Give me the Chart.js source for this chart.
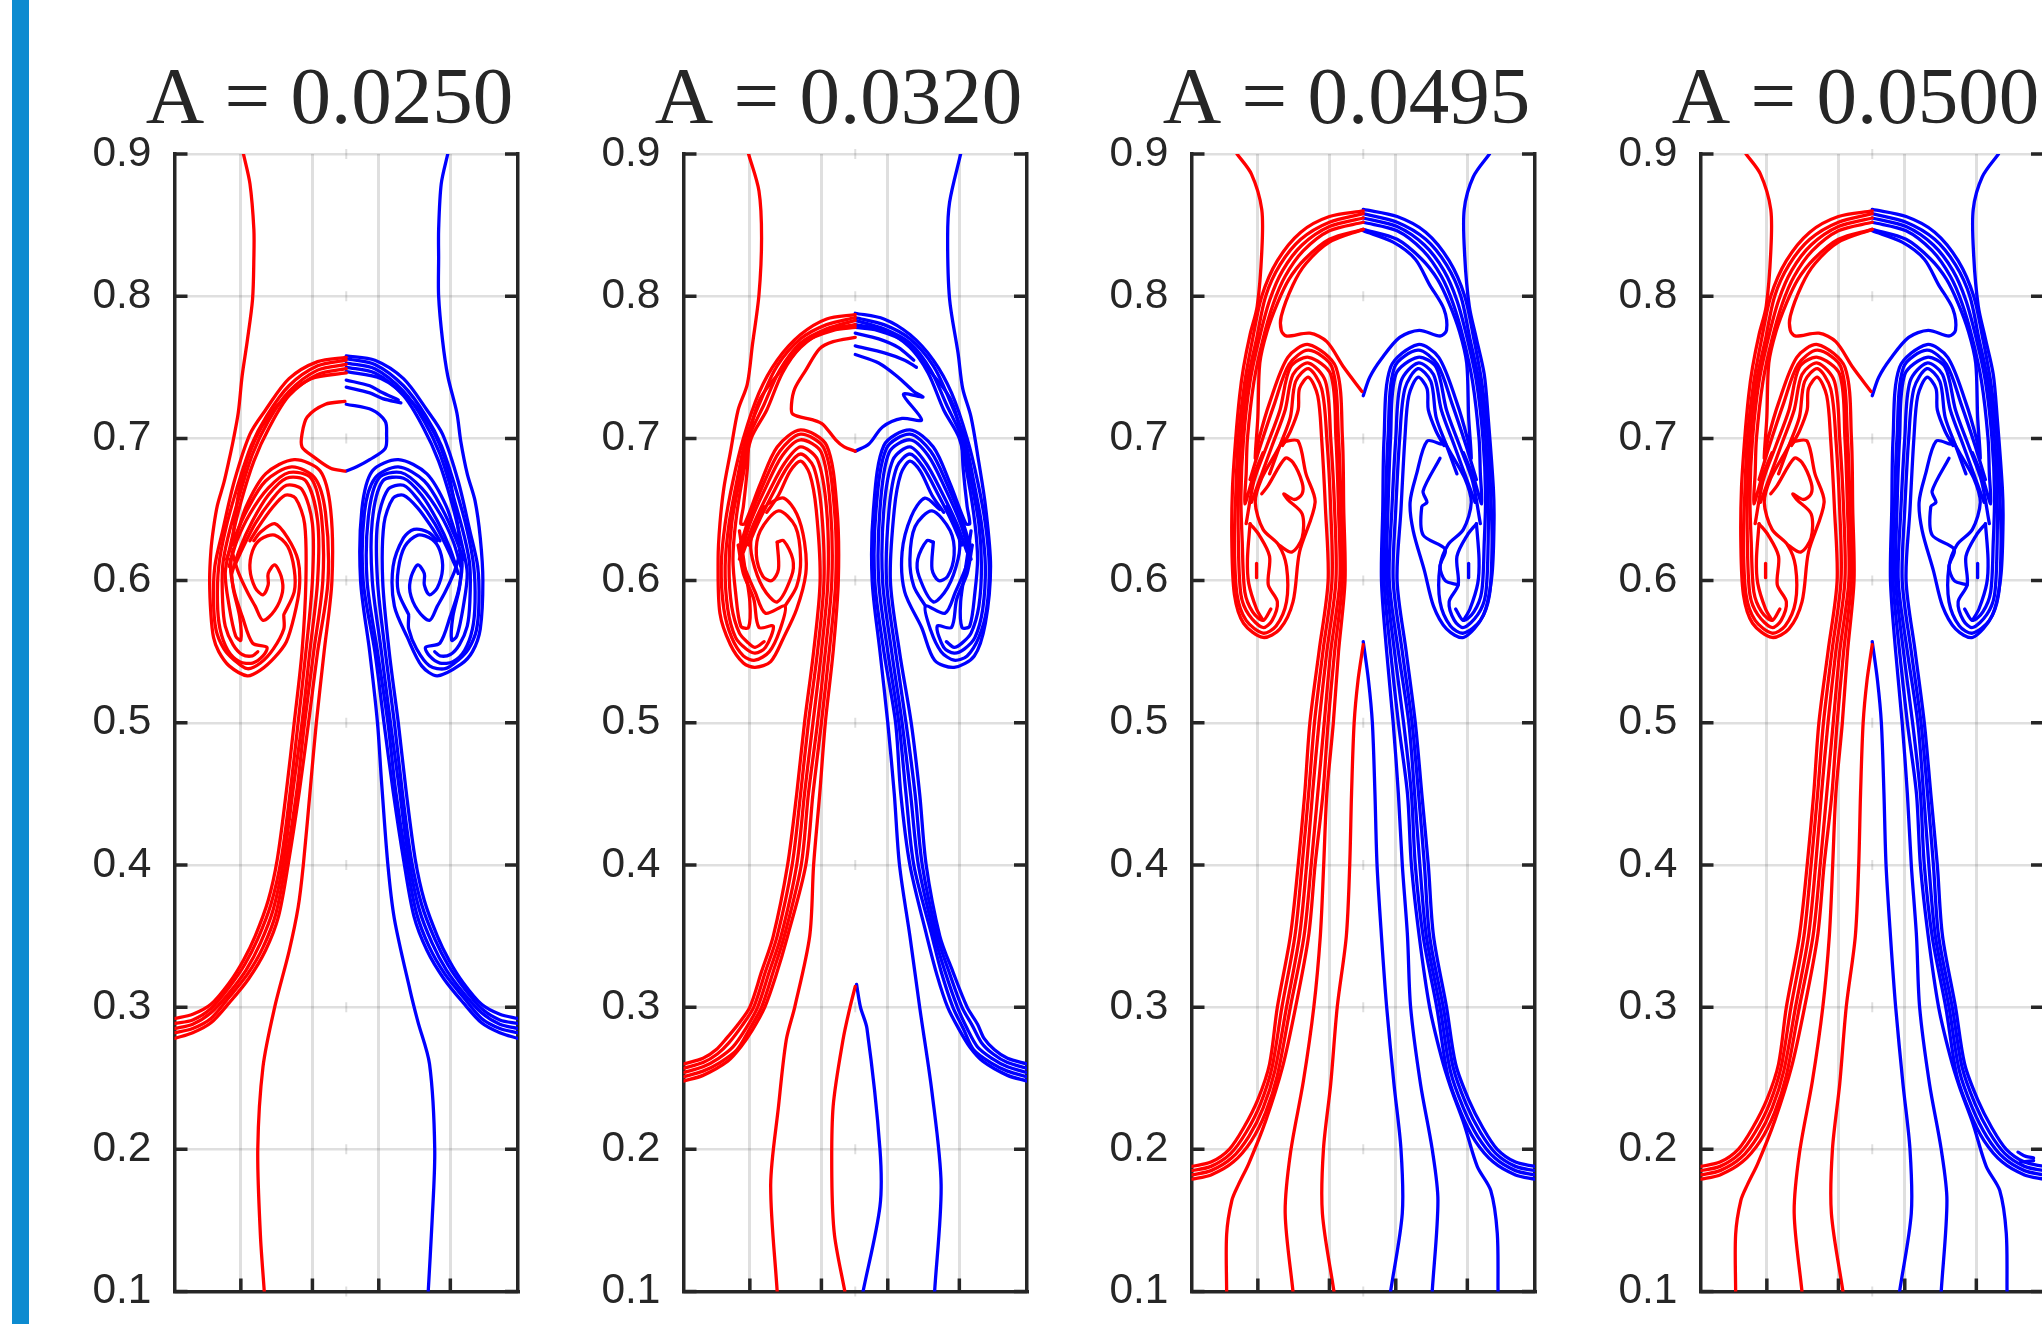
<!DOCTYPE html>
<html>
<head>
<meta charset="utf-8">
<style>
  html, body { margin: 0; background: #fff; overflow: hidden; width: 2042px; height: 1324px; }
  #bar { position: absolute; left: 12px; top: 0; width: 17px; height: 1324px; background: #0d8bd0; }
  canvas { position: absolute; top: 0; }
</style>
<script src="https://cdn.jsdelivr.net/npm/chart.js@4"></script>
</head>
<body>
<div id="bar"></div>
<canvas id="c0" width="499" height="1340"></canvas>
<canvas id="c1" width="499" height="1340"></canvas>
<canvas id="c2" width="499" height="1340"></canvas>
<canvas id="c3" width="499" height="1340"></canvas>
<script>
const titles = ["A = 0.0250", "A = 0.0320", "A = 0.0495", "A = 0.0500"];
const yTicks = [0.1, 0.2, 0.3, 0.4, 0.5, 0.6, 0.7, 0.8, 0.9];
const xTicks = [51, 106, 157, 212];
const xCentre = 132;

// A = 0.0250
const p1RedTop = [[53,.9],[58,.879],[61,.847],[61,.827],[60,.798],[56,.769],[52,.744],[49,.718],[45,.698],[42,.685],[38,.669],[33,.653],[30,.637],[28,.621],[27,.6],[28,.576],[30,.56],[34,.55],[42,.54],[56,.533],[66,.537],[77,.546],[86,.557],[92,.575],[96,.595],[95,.614],[87,.63],[77,.64],[66,.634],[61,.628]];
const p1RedS1 = [[0,.292],[14,.295],[28,.302],[42,.317],[53,.333],[62,.35],[72,.375],[79,.404],[86,.452],[92,.5],[98,.55],[101,.6],[100,.64],[93,.658],[85,.66],[75,.651],[64,.637],[58,.628]];
const p1RedS2 = [[0,.2885],[14,.291],[28,.299],[42,.314],[54,.33],[64,.348],[74,.372],[82,.404],[89,.452],[95,.5],[101,.55],[106,.6],[106,.64],[98,.664],[86,.667],[74,.656],[62,.64],[52,.622],[46,.61]];
const p1RedS3 = [[0,.285],[14,.288],[28,.296],[42,.31],[55,.326],[66,.345],[76,.369],[84,.404],[91,.452],[98,.5],[104,.55],[110,.6],[110,.642],[101,.67],[86,.672],[72,.66],[60,.642],[50,.622],[44,.605]];
const p1RedS4 = [[0,.282],[14,.285],[28,.292],[42,.307],[56,.323],[68,.342],[78,.366],[86,.404],[94,.452],[100,.5],[107,.55],[114,.6],[113,.645],[105,.672],[88,.676],[72,.665],[58,.647],[48,.628],[42,.61]];
const p1RedS5 = [[0,.278],[14,.282],[28,.289],[42,.303],[57,.32],[70,.34],[80,.364],[88,.404],[96,.452],[103,.5],[110,.55],[118,.6],[116,.648],[108,.672],[90,.68],[70,.67],[56,.65],[46,.63],[40,.615]];
const p1RedWisp = [[69,.1],[66,.14],[64,.2],[68,.258],[77,.3],[88,.339],[95,.37],[99,.4],[105,.46],[109,.5],[115,.55],[121,.6],[120,.65],[112,.677],[92,.685],[70,.675],[55,.652],[45,.625],[49,.66],[56,.685],[67,.708],[83,.727],[105,.742],[132,.746]];
const p1RedC1 = [[132,.757],[110,.754],[88,.742],[70,.72],[58,.703],[46,.67],[37,.635],[31,.61],[30,.585],[32,.565],[38,.552],[46,.544],[56,.538],[66,.542],[76,.552],[84,.566],[84,.575]];
const p1RedC2 = [[132,.755],[110,.751],[88,.737],[71,.716],[59,.695],[48,.665],[39,.635],[34,.61],[33,.585],[35,.566],[41,.551],[50,.543],[60,.542],[68,.547],[71,.553],[60,.556],[52,.575],[46,.592],[43,.61],[45,.622]];
const p1RedC3 = [[132,.752],[110,.748],[88,.733],[72,.712],[60,.689],[50,.66],[41,.63],[37,.61],[37,.585],[39,.568],[45,.555],[52,.548],[60,.547],[64,.55]];
const p1RedC4 = [[132,.749],[110,.745],[88,.73],[73,.708],[61,.684],[51,.655],[43,.625],[39,.605],[42,.582],[47,.561],[51,.558],[50,.575],[45,.595],[43,.615]];
const p1RedCurl = [[84,.576],[92,.592],[92,.608],[87,.624],[77,.632],[66,.629],[60,.621],[58,.608],[62,.595],[68,.59],[72,.597],[72,.605],[77,.611],[82,.603],[83,.592],[77,.579],[68,.572],[62,.582],[56,.592],[49,.606],[45,.618]];
const p1RedIsland = [[131,.726],[116,.724],[102,.715],[98,.703],[98,.694],[107,.687],[120,.679],[131,.677]];

const p1BlueTop = [[210,.9],[205,.879],[203,.847],[203,.827],[203,.8],[206,.769],[210,.744],[217,.718],[220,.698],[225,.675],[231,.656],[235,.63],[237,.6],[235,.566],[229,.55],[220,.541],[202,.533],[190,.54],[179,.56],[169,.582],[168,.61],[176,.63],[184,.636],[195,.634],[202,.628]];
const p1BlueS1 = [[264,.292],[250,.295],[236,.302],[222,.317],[211,.333],[202,.35],[192,.375],[185,.404],[178,.452],[172,.5],[165,.55],[160,.6],[161,.64],[168,.658],[176,.66],[187,.651],[198,.637],[204,.628]];
const p1BlueS2 = [[264,.2885],[250,.291],[236,.299],[222,.314],[210,.33],[200,.348],[190,.372],[182,.404],[175,.452],[169,.5],[162,.55],[156,.6],[156,.64],[164,.664],[176,.667],[188,.656],[200,.64],[210,.622],[216,.61]];
const p1BlueS3 = [[264,.285],[250,.288],[236,.296],[222,.31],[209,.326],[198,.345],[188,.369],[180,.404],[173,.452],[166,.5],[159,.55],[152,.6],[152,.642],[160,.67],[176,.672],[190,.66],[202,.642],[212,.622],[218,.605]];
const p1BlueS4 = [[264,.282],[250,.285],[236,.292],[222,.307],[208,.323],[196,.342],[186,.366],[178,.404],[170,.452],[164,.5],[156,.55],[148,.6],[149,.645],[157,.672],[174,.676],[190,.665],[204,.647],[214,.628],[220,.61]];
const p1BlueS5 = [[264,.278],[250,.282],[236,.289],[222,.303],[207,.32],[194,.34],[184,.364],[176,.404],[168,.452],[161,.5],[154,.55],[145,.6],[146,.648],[154,.672],[172,.68],[192,.67],[206,.65],[216,.63],[222,.615]];
const p1BlueWisp = [[195,.1],[198,.15],[200,.2],[196,.26],[187,.29],[181,.312],[169,.362],[164,.4],[159,.46],[156,.5],[150,.55],[143,.6],[144,.65],[152,.677],[172,.685],[194,.675],[209,.652],[219,.625],[214,.66],[208,.685],[197,.708],[181,.727],[159,.742],[132,.747]];
const p1BlueC1 = [[132,.758],[154,.755],[176,.742],[194,.72],[206,.703],[218,.67],[227,.635],[233,.61],[234,.585],[232,.565],[226,.552],[218,.544],[208,.538],[196,.54],[186,.552],[180,.566],[180,.575]];
const p1BlueC2 = [[132,.756],[154,.752],[176,.737],[193,.716],[205,.695],[216,.665],[225,.635],[230,.61],[231,.585],[229,.566],[223,.551],[214,.543],[204,.542],[196,.547],[193,.553],[204,.556],[212,.575],[218,.592],[221,.61],[219,.622]];
const p1BlueC3 = [[132,.753],[154,.749],[176,.733],[192,.712],[204,.689],[214,.66],[223,.63],[227,.61],[227,.585],[225,.568],[219,.555],[212,.548],[204,.547],[200,.55]];
const p1BlueC4 = [[132,.75],[154,.746],[176,.73],[191,.708],[203,.684],[213,.655],[221,.625],[225,.605],[222,.582],[217,.561],[213,.558],[214,.575],[219,.595],[221,.615]];
const p1BlueCurl = [[180,.576],[172,.592],[172,.608],[177,.624],[187,.632],[198,.629],[204,.621],[206,.608],[202,.595],[196,.59],[192,.597],[192,.605],[187,.611],[182,.603],[181,.592],[187,.579],[196,.572],[202,.582],[208,.592],[215,.606],[219,.618]];
const p1BlueIsland = [[132,.724],[152,.72],[162,.712],[163,.703],[162,.693],[150,.685],[140,.68],[132,.677]];
const p1BlueFrag1 = [[132,.741],[150,.737],[158,.733],[172,.727]];
const p1BlueFrag2 = [[132,.736],[150,.732],[160,.728],[174,.725]];

// A = 0.0320
const p2RedTop = [[50,.9],[58,.874],[60,.841],[58,.801],[53,.766],[49,.738],[42,.72],[36,.69],[31,.665],[28,.64],[26.6,.615],[28,.577],[36,.555],[46,.542],[55,.539],[67,.543],[77,.56],[87,.58],[94,.605],[93,.627],[87,.647],[77,.658],[65,.654]];
const p2RedS1 = [[0,.26],[15,.264],[25,.27],[33,.278],[42,.288],[51,.3],[60,.325],[69,.35],[80,.4],[87,.45],[93,.5],[100,.55],[105,.6],[102,.65],[97,.675],[90,.684],[82,.677],[73,.66],[64,.648]];
const p2RedS2 = [[0,.257],[15,.261],[26,.267],[35,.275],[45,.287],[54,.3],[63,.325],[72,.35],[83.5,.4],[90,.45],[96,.5],[103,.55],[108,.6],[106,.65],[100,.68],[90,.689],[80,.68],[68,.66],[57,.64],[50,.625]];
const p2RedS3 = [[0,.254],[15,.258],[27,.264],[38,.272],[48,.285],[57,.3],[66,.325],[75,.35],[87,.4],[93,.45],[99.5,.5],[106,.55],[111,.6],[110,.65],[103,.685],[90,.694],[78,.683],[66,.663],[54,.64],[46,.62]];
const p2RedS4 = [[0,.251],[15,.255],[28,.261],[41,.27],[51,.285],[60,.3],[69,.325],[77.5,.35],[90.5,.4],[96,.45],[103,.5],[109,.55],[114,.6],[113,.65],[106,.69],[90,.699],[76,.688],[63,.665],[51,.64],[43,.615]];
const p2RedS5 = [[0,.248],[15,.252],[34,.262],[44,.272],[53,.284],[62.5,.3],[71,.322],[80,.35],[94,.4],[99.5,.45],[106,.5],[112,.55],[117,.6],[116,.65],[108,.693],[90,.703],[74,.691],[61,.667],[49,.64],[44,.625]];
const p2RedWisp = [[72,.1],[67,.175],[73,.23],[79,.277],[85.5,.3],[97,.35],[100,.4],[104.7,.45],[109,.5],[115,.55],[119,.6],[118,.65],[110,.695],[90,.706],[72,.694],[59,.668],[47,.64],[44,.64],[46,.652],[49,.678],[51,.703],[59,.728],[77,.75],[94,.768],[115,.776],[132,.778]];
const p2RedC1 = [[132,.787],[110,.784],[90,.773],[72,.755],[58,.732],[46,.7],[38,.67],[32,.64],[29,.61],[31,.58],[37,.56],[46,.547],[55,.544],[66,.55],[74,.565],[78,.582],[63,.577],[55,.592],[46,.612],[44,.627]];
const p2RedC2 = [[132,.785],[110,.78],[90,.77],[72,.751],[60,.728],[48,.7],[41,.67],[35,.64],[32,.61],[34,.58],[40,.56],[48,.552],[55,.549],[63,.553],[69,.568],[58,.567],[54,.587],[46,.605],[42,.625]];
const p2RedC3 = [[132,.783],[110,.777],[90,.767],[74,.748],[62,.724],[50,.7],[43,.67],[37,.64],[35,.61],[37,.582],[43,.563],[50,.556],[55,.553],[62,.557]];
const p2RedC4 = [[132,.78],[110,.776],[90,.764],[76,.746],[64,.72],[52,.7],[45,.67],[40,.64],[38,.615],[40,.592],[44,.568],[50,.567],[51,.585],[47,.61],[43,.635]];
const p2RedRingA = [[72,.627],[73,.608],[68,.6],[61,.603],[56,.618],[59,.635],[73,.649],[86,.638],[90,.615],[87,.596],[78,.582]];
const p2RedRingB = [[72,.627],[77,.628],[84,.615],[83,.603],[72,.585],[61,.595],[53,.615],[52,.63],[58,.645],[62,.652]];
const p2RedIsland = [[132,.771],[115,.768],[104.5,.763],[94,.748],[85.5,.735],[83,.724],[84,.717],[99.5,.713],[107,.71],[117,.699],[123.5,.694],[132,.691]];
const p2RedTip = [[124,.1],[116,.14],[114,.18],[115,.23],[122.6,.277],[128,.3],[132,.3145]];

const p2BlueTop = [[213,.9],[204.5,.866],[203,.841],[204.5,.798],[211,.76],[214.6,.735],[221,.715],[227,.683],[232,.653],[236,.61],[232,.57],[223.5,.547],[208,.539],[193,.544],[183,.567],[170,.592],[168,.62],[175,.645],[185.5,.658],[197,.65]];
const p2BlueS1 = [[264,.26],[249,.264],[239,.27],[231,.278],[226,.288],[218,.3],[207,.325],[197,.35],[186.5,.4],[181.5,.45],[175,.5],[166,.55],[159,.6],[162,.65],[167,.675],[174,.684],[182,.677],[191,.66],[200,.648]];
const p2BlueS2 = [[264,.257],[249,.261],[238,.267],[229,.275],[222,.287],[214,.3],[204,.325],[195,.35],[183.5,.4],[178,.45],[171,.5],[163,.55],[156,.6],[158,.65],[164,.68],[174,.689],[184,.68],[196,.66],[207,.64],[214,.625]];
const p2BlueS3 = [[264,.254],[249,.258],[237,.264],[226,.272],[218,.285],[210.5,.3],[201,.325],[193,.35],[180.5,.4],[174.5,.45],[168,.5],[160,.55],[153,.6],[154,.65],[161,.685],[174,.694],[186,.683],[198,.663],[210,.64],[218,.62]];
const p2BlueS4 = [[264,.251],[249,.255],[236,.261],[223,.27],[215,.285],[207,.3],[198,.325],[191,.35],[177,.4],[171,.45],[165.5,.5],[157,.55],[150,.6],[151,.65],[158,.69],[174,.699],[188,.688],[201,.665],[213,.64],[221,.615]];
const p2BlueS5 = [[264,.248],[249,.252],[230,.262],[220,.272],[212,.284],[203,.3],[195,.322],[187,.35],[174,.4],[167,.45],[163,.5],[154,.55],[147,.6],[148,.65],[156,.693],[174,.703],[190,.691],[203,.667],[215,.64],[220,.625]];
const p2BlueWisp = [[193,.1],[198,.175],[191,.24],[181.5,.3],[174,.35],[166,.4],[162,.45],[157,.5],[151,.55],[145,.6],[146,.65],[154,.695],[174,.706],[192,.694],[205,.668],[217,.64],[220,.64],[218,.652],[215,.678],[213,.703],[205,.728],[187,.75],[170,.768],[149,.776],[132,.778]];
const p2BlueC1 = [[132,.788],[154,.784],[174,.773],[192,.755],[206,.732],[218,.7],[226,.67],[232,.64],[235,.61],[233,.58],[227,.56],[218,.547],[208,.544],[198,.55],[190,.565],[186,.582],[201,.577],[209,.592],[218,.612],[220,.627]];
const p2BlueC2 = [[132,.785],[154,.78],[174,.77],[192,.751],[204,.728],[216,.7],[223,.67],[229,.64],[232,.61],[230,.58],[224,.56],[216,.552],[208,.549],[200,.553],[195,.568],[206,.567],[210,.587],[218,.605],[222,.625]];
const p2BlueC3 = [[132,.783],[154,.777],[174,.767],[190,.748],[202,.724],[214,.7],[221,.67],[227,.64],[229,.61],[227,.582],[221,.563],[214,.556],[208,.553],[202,.557]];
const p2BlueC4 = [[132,.78],[154,.776],[174,.764],[188,.746],[200,.72],[212,.7],[219,.67],[224,.64],[226,.615],[224,.592],[220,.568],[214,.567],[213,.585],[217,.61],[221,.635]];
const p2BlueRingA = [[192,.627],[191,.608],[196,.6],[203,.603],[208,.618],[205,.635],[191,.649],[178,.638],[174,.615],[177,.596],[186,.582]];
const p2BlueRingB = [[192,.627],[187,.628],[180,.615],[181,.603],[192,.585],[203,.595],[211,.615],[212,.63],[206,.645],[202,.652]];
const p2BlueFrag1 = [[132,.774],[150,.77],[165,.764],[177,.755]];
const p2BlueFrag2 = [[132,.765],[155,.76],[170,.755],[179,.75]];
const p2BlueIsland = [[132,.759],[150,.753],[165,.743],[177,.733],[184,.729],[169,.731],[183,.713],[168,.714],[153,.708],[142.5,.696],[132,.691]];
const p2BlueTip = [[138,.1],[151,.16],[151,.2],[141,.285],[136,.3],[133,.316]];

// A = 0.0495
const p3RedTop = [[35,.9],[46,.886],[54,.861],[54,.831],[50.5,.793],[45,.773],[40,.75],[37,.73],[34,.7],[31.5,.665],[31,.627],[33,.59],[40,.57],[55,.56],[68,.566],[78,.585],[83,.62],[95,.655],[88,.675],[82,.698],[73,.698],[70,.696]];
const p3RedS1 = [[0,.188],[15,.191],[29,.2],[40,.215],[51,.235],[60,.26],[66,.3],[76,.35],[82,.4],[87,.45],[91,.5],[98,.55],[105,.6],[103,.65],[100,.7],[97,.73],[90,.743],[83,.735],[82,.72],[76,.705],[70,.695]];
const p3RedS2 = [[0,.185],[15,.188],[30,.197],[42,.212],[53,.232],[62,.258],[69.5,.3],[79.5,.35],[85,.4],[90,.45],[94.5,.5],[101,.55],[108,.6],[107,.65],[104,.7],[100,.735],[90,.749],[80,.74],[76,.715],[68,.695],[60,.675]];
const p3RedS3 = [[0,.182],[15,.185],[31,.194],[44,.209],[55,.229],[64,.255],[73,.3],[83,.35],[88.5,.4],[93,.45],[98,.5],[104,.55],[111,.6],[110,.65],[107,.7],[103,.74],[90,.753],[78,.745],[72,.72],[62,.695],[52,.67],[46,.655]];
const p3RedS4 = [[0,.179],[15,.182],[32,.191],[46,.206],[57,.226],[66,.252],[76,.3],[86.5,.35],[92,.4],[97,.45],[102,.5],[107,.55],[114,.6],[113,.65],[111,.7],[107,.745],[90,.757],[76,.75],[68,.72],[58,.695],[48,.67],[42,.64]];
const p3RedS5 = [[27,.1],[27,.14],[31,.164],[36,.175],[44,.19],[57,.22],[70,.258],[80,.3],[90,.35],[95,.4],[101,.45],[105,.5],[110,.55],[116,.6],[115,.65],[113,.7],[108,.75],[90,.762],[75,.752],[64,.725],[53,.695],[45,.671]];
const p3RedWisp = [[78,.1],[72,.155],[76,.197],[86,.248],[94,.3],[99,.35],[101.6,.4],[104,.45],[109,.5],[113,.55],[118,.6],[117,.65],[116,.7],[111,.75],[90,.766],[74,.757],[60,.725],[52,.7],[49,.686],[51,.715],[52.5,.753],[58,.775],[66,.795],[75,.812],[87,.826],[106,.84],[132,.847]];
const p3RedC1 = [[132,.86],[106,.856],[84,.845],[66,.825],[54,.8],[47,.77],[41,.74],[36,.7],[34,.66],[33,.627],[35,.59],[42,.572],[55,.563],[65,.568],[73,.585],[73,.61],[67,.625],[55,.636],[49,.655],[54,.672],[65,.69],[71,.7]];
const p3RedC2 = [[132,.858],[106,.852],[84,.84],[68,.822],[57,.8],[50,.77],[43,.74],[38,.7],[36,.66],[36,.627],[38,.59],[44,.576],[55,.567],[62,.572],[66,.585],[59,.597],[60,.617],[52,.632],[45,.64]];
const p3RedC3 = [[132,.855],[106,.849],[85,.836],[70,.818],[60,.797],[52,.77],[45,.74],[40,.7],[38,.66],[39,.627],[41,.592],[47,.578],[55,.572],[61,.58]];
const p3RedC4 = [[132,.852],[106,.846],[86,.832],[72,.814],[63,.795],[55,.77],[48,.74],[43,.7],[42,.675],[41,.654],[47,.672],[55,.69]];
const p3RedInner = [[45,.64],[43,.615],[44,.598],[50,.58],[55,.572]];
const p3RedCurl = [[54,.661],[59,.667],[72,.686],[78,.683],[85,.669],[85,.661],[79,.657],[71,.661],[74,.657],[85,.647],[85,.63],[77,.62],[67,.625]];
const p3RedBlob = [[50,.612],[50,.602]];
const p3RedTip = [[109.5,.1],[100.6,.155],[101.4,.2],[107,.246],[112,.3],[119,.35],[121.6,.4],[123,.45],[125,.5],[128,.53],[132,.555]];
const p3RedIsland = [[132,.847],[106,.838],[88,.823],[78,.808],[69,.786],[69,.776],[73,.772],[91,.774],[104,.768],[117,.75],[131,.733]];

const p3BlueTop = [[229,.9],[216.6,.884],[209.6,.861],[210,.828],[213.5,.793],[219,.77],[225,.745],[228,.715],[232,.665],[232.5,.64],[230.7,.602],[224,.575],[209,.56],[196,.566],[186,.582],[179,.607],[170.4,.635],[168,.655],[173,.675],[181,.698],[192,.696]];
const p3BlueS1 = [[264,.188],[249,.191],[235,.2],[224,.215],[213,.235],[203,.26],[196,.3],[186,.35],[182,.4],[177,.45],[172,.5],[165,.55],[158,.6],[161,.65],[164,.7],[167,.73],[174,.743],[181,.735],[182,.72],[188,.705],[194,.695]];
const p3BlueS2 = [[264,.185],[249,.188],[234,.197],[222,.212],[211,.232],[201,.258],[193.5,.3],[183,.35],[179,.4],[174.5,.45],[169.5,.5],[162,.55],[155,.6],[157,.65],[160,.7],[164,.735],[174,.749],[184,.74],[188,.715],[196,.695],[204,.675]];
const p3BlueS3 = [[264,.182],[249,.185],[233,.194],[220,.209],[209,.229],[199,.255],[191,.3],[180.5,.35],[175.5,.4],[171.5,.45],[167,.5],[159,.55],[152,.6],[154,.65],[157,.7],[161,.74],[174,.753],[186,.745],[192,.72],[202,.695],[212,.67],[218,.655]];
const p3BlueS4 = [[264,.179],[249,.182],[232,.191],[218,.206],[207,.226],[197,.252],[188.5,.3],[178,.35],[172,.4],[169,.45],[163,.5],[156,.55],[150,.6],[151,.65],[153,.7],[157,.745],[174,.757],[188,.75],[196,.72],[206,.695],[216,.67],[222,.64]];
const p3BlueS5 = [[235.6,.1],[235,.141],[230,.171],[219.6,.188],[209.4,.218],[199,.244],[192,.265],[183,.3],[175,.35],[169,.4],[166,.45],[159,.5],[153,.55],[148,.6],[149,.65],[151,.7],[156,.75],[174,.762],[189,.752],[200,.725],[211,.695],[219,.671]];
const p3BlueWisp = [[185,.1],[189.4,.164],[185,.2],[176,.246],[168.4,.3],[166,.35],[162,.4],[159,.45],[155,.5],[150,.55],[146,.6],[147,.65],[148,.7],[153,.75],[174,.766],[190,.757],[204,.725],[212,.7],[215,.686],[213,.715],[211.5,.753],[206,.775],[198,.795],[189,.812],[177,.826],[158,.84],[132,.847]];
const p3BlueC1 = [[132,.861],[158,.856],[180,.845],[198,.825],[210,.8],[217,.77],[223,.74],[228,.7],[230,.66],[231,.627],[229,.59],[222,.572],[209,.563],[199,.568],[191,.585],[191,.61],[197,.625],[209,.636],[215,.655],[210,.672],[199,.69],[193,.7]];
const p3BlueC2 = [[132,.858],[158,.852],[180,.84],[196,.822],[207,.8],[214,.77],[221,.74],[226,.7],[228,.66],[228,.627],[226,.59],[220,.576],[209,.567],[202,.572],[198,.585],[205,.597],[204,.617],[212,.632],[219,.64]];
const p3BlueC3 = [[132,.855],[158,.849],[179,.836],[194,.818],[204,.797],[212,.77],[219,.74],[224,.7],[226,.66],[225,.627],[223,.592],[217,.578],[209,.572],[203,.58]];
const p3BlueC4 = [[132,.852],[158,.846],[178,.832],[192,.814],[201,.795],[209,.77],[216,.74],[221,.7],[222,.675],[223,.654],[217,.672],[209,.69]];
const p3BlueInner = [[219,.64],[221,.615],[220,.598],[214,.58],[209,.572]];
const p3BlueCurl = [[191,.686],[178,.663],[181,.655],[177,.652],[178,.632],[195,.622],[191,.61],[195,.6],[205,.597]];
const p3BlueBlob = [[213,.612],[213,.602]];
const p3BlueTip = [[153,.1],[162,.155],[161,.2],[155.6,.246],[150,.3],[146,.35],[142.6,.4],[141,.45],[139,.5],[136,.53],[132,.557]];
const p3BlueIsland = [[132,.846],[155,.838],[172,.826],[183,.808],[194,.791],[196,.776],[191,.772],[175,.776],[160,.771],[146,.756],[137,.743],[132,.73]];

// A = 0.0500 repeats the 0.0495 contours, apart from a small fragment at the right edge
const p4BlueFrag1 = [[244,.198],[250,.195],[256,.194]];
const p4BlueFrag2 = [[246,.191],[256,.192]];

const panelRed = [
  [p1RedTop, p1RedS1, p1RedS2, p1RedS3, p1RedS4, p1RedS5, p1RedWisp, p1RedC1, p1RedC2, p1RedC3, p1RedC4, p1RedCurl, p1RedIsland],
  [p2RedTop, p2RedS1, p2RedS2, p2RedS3, p2RedS4, p2RedS5, p2RedWisp, p2RedC1, p2RedC2, p2RedC3, p2RedC4, p2RedRingA, p2RedRingB, p2RedIsland, p2RedTip],
  [p3RedTop, p3RedS1, p3RedS2, p3RedS3, p3RedS4, p3RedS5, p3RedWisp, p3RedC1, p3RedC2, p3RedC3, p3RedC4, p3RedInner, p3RedCurl, p3RedBlob, p3RedTip, p3RedIsland],
  [p3RedTop, p3RedS1, p3RedS2, p3RedS3, p3RedS4, p3RedS5, p3RedWisp, p3RedC1, p3RedC2, p3RedC3, p3RedC4, p3RedInner, p3RedCurl, p3RedBlob, p3RedTip, p3RedIsland],
];
const panelBlue = [
  [p1BlueTop, p1BlueS1, p1BlueS2, p1BlueS3, p1BlueS4, p1BlueS5, p1BlueWisp, p1BlueC1, p1BlueC2, p1BlueC3, p1BlueC4, p1BlueCurl, p1BlueIsland, p1BlueFrag1, p1BlueFrag2],
  [p2BlueTop, p2BlueS1, p2BlueS2, p2BlueS3, p2BlueS4, p2BlueS5, p2BlueWisp, p2BlueC1, p2BlueC2, p2BlueC3, p2BlueC4, p2BlueRingA, p2BlueRingB, p2BlueFrag1, p2BlueFrag2, p2BlueIsland, p2BlueTip],
  [p3BlueTop, p3BlueS1, p3BlueS2, p3BlueS3, p3BlueS4, p3BlueS5, p3BlueWisp, p3BlueC1, p3BlueC2, p3BlueC3, p3BlueC4, p3BlueInner, p3BlueCurl, p3BlueBlob, p3BlueTip, p3BlueIsland],
  [p3BlueTop, p3BlueS1, p3BlueS2, p3BlueS3, p3BlueS4, p3BlueS5, p3BlueWisp, p3BlueC1, p3BlueC2, p3BlueC3, p3BlueC4, p3BlueInner, p3BlueCurl, p3BlueBlob, p3BlueTip, p3BlueIsland, p4BlueFrag1, p4BlueFrag2],
];

const ink = "#262626";
const gridColor = "rgba(38, 38, 38, 0.15)";

// matlab style inward ticks, left, right and bottom
const insideTicks = {
  id: "insideTicks",
  afterDatasetsDraw(chart) {
    const { ctx, chartArea: a, scales } = chart;
    const len = 13;
    ctx.save();
    ctx.strokeStyle = ink;
    ctx.lineWidth = 3.5;
    ctx.beginPath();
    for (const v of yTicks) {
      const y = scales.y.getPixelForValue(v);
      ctx.moveTo(a.left, y);
      ctx.lineTo(a.left + len, y);
      ctx.moveTo(a.right, y);
      ctx.lineTo(a.right - len, y);
    }
    for (const v of xTicks) {
      const x = scales.x.getPixelForValue(v);
      ctx.moveTo(x, a.bottom);
      ctx.lineTo(x, a.bottom - len);
    }
    ctx.stroke();
    // centre tick is only a faint mark
    const cx = scales.x.getPixelForValue(xCentre);
    ctx.strokeStyle = gridColor;
    ctx.lineWidth = 2;
    ctx.beginPath();
    for (const v of yTicks) {
      const y = scales.y.getPixelForValue(v);
      ctx.moveTo(cx, y - 5);
      ctx.lineTo(cx, y + 5);
    }
    ctx.stroke();
    ctx.restore();
  },
};

const toDatasets = (lines, color) =>
  lines.map((line) => ({
    data: line,
    showLine: true,
    borderColor: color,
    backgroundColor: color,
    borderWidth: 3.3,
    tension: 0.3,
    pointRadius: 0,
    borderJoinStyle: "round",
    borderCapStyle: "round",
  }));

titles.forEach((title, i) => {
  const canvas = document.getElementById("c" + i);
  canvas.style.left = 80 + i * 508.5 + "px";

  new Chart(canvas, {
    type: "scatter",
    data: { datasets: [...toDatasets(panelRed[i], "#ff0000"), ...toDatasets(panelBlue[i], "#0000ff")] },
    plugins: [insideTicks],
    options: {
      responsive: false,
      animation: false,
      devicePixelRatio: 1,
      layout: { padding: 0 },
      plugins: {
        legend: { display: false },
        tooltip: { enabled: false },
        title: {
          display: true,
          text: title,
          align: "center",
          color: ink,
          font: { family: "'Liberation Serif'", size: 81, weight: "normal", lineHeight: 1.2 },
          padding: { top: 53.5, bottom: 3.3 },
        },
      },
      scales: {
        x: {
          type: "linear",
          min: 0,
          max: 264,
          afterBuildTicks: (scale) => {
            scale.ticks = xTicks.map((value) => ({ value }));
          },
          afterFit: (scale) => {
            scale.height = 32;
          },
          ticks: { display: false },
          grid: { color: gridColor, lineWidth: 3, drawTicks: false },
          border: { color: ink, width: 3.5 },
        },
        y: {
          type: "linear",
          min: 0.1,
          max: 0.9,
          afterBuildTicks: (scale) => {
            scale.ticks = yTicks.map((value) => ({ value }));
          },
          afterFit: (scale) => {
            scale.width = 94.5;
          },
          ticks: {
            color: ink,
            padding: 23,
            font: { family: "'Liberation Sans'", size: 42.5 },
            callback: (v) => v.toFixed(1),
          },
          grid: { color: gridColor, lineWidth: 2.5, drawTicks: false },
          border: { color: ink, width: 3.5 },
        },
        yRight: {
          type: "linear",
          position: "right",
          min: 0.1,
          max: 0.9,
          afterFit: (scale) => {
            scale.width = 61;
          },
          ticks: { display: false },
          grid: { drawOnChartArea: false, drawTicks: false },
          border: { color: ink, width: 3.5 },
        },
      },
    },
  });
});
</script>
</body>
</html>
